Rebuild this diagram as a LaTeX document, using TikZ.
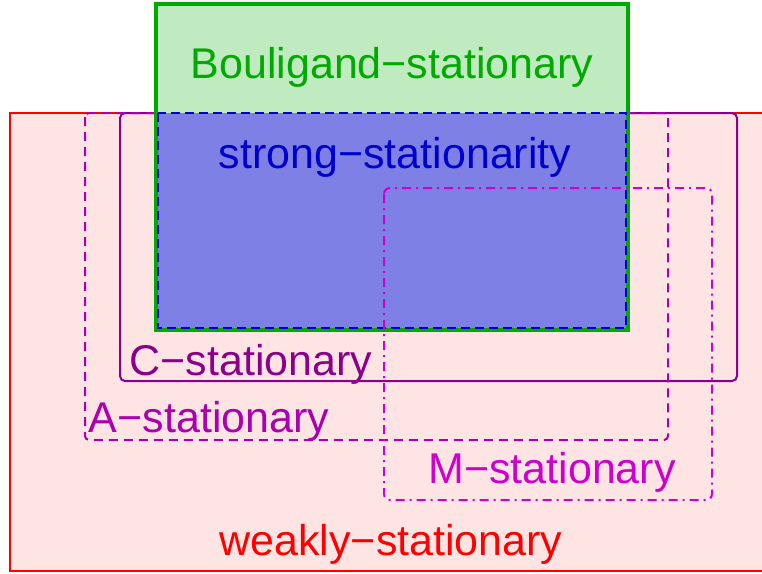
\documentclass[tikz,border=0pt]{standalone}
\usepackage{fontspec}
\setmainfont{Liberation Sans}
\definecolor{wsred}{RGB}{255,0,0}
\definecolor{wsfill}{RGB}{255,228,228}
\definecolor{bgreen}{RGB}{0,170,0}
\definecolor{bfill}{RGB}{192,235,192}
\definecolor{sblue}{RGB}{0,0,204}
\definecolor{sfill}{RGB}{126,128,230}
\definecolor{cpurple}{RGB}{139,0,139}
\definecolor{amag}{RGB}{170,0,176}
\definecolor{mmag}{RGB}{205,0,205}
\tikzset{
  lbl/.style={anchor=base, inner sep=0pt, font=\fontsize{43}{50}\selectfont},
  wsbox/.style={draw=wsred, fill=wsfill, line width=1.5pt},
  bbox/.style={draw=bgreen, fill=bfill, line width=4pt},
  ssbox/.style={draw=sblue, fill=sfill, line width=2.5pt, dash pattern=on 9pt off 5pt},
  cbox/.style={draw=cpurple, line width=2pt, rounded corners=5pt},
  abox/.style={draw=amag, line width=2pt, rounded corners=4pt, dash pattern=on 9pt off 6pt},
  mbox/.style={draw=mmag, line width=2pt, rounded corners=6pt, dash pattern=on 9pt off 5pt on 2pt off 5pt}
}
\begin{document}
\begin{tikzpicture}[x=1pt,y=-1pt]
\useasboundingbox (0,0) rectangle (762,573);
\clip (0,0) rectangle (762,573);
% weakly-stationary region (runs off the right edge)
\draw[wsbox] (10,113) rectangle (790,571);
% C- and A-stationary regions
\draw[cbox] (120,113) rectangle (737,381);
\draw[abox] (85,113) rectangle (668,440);
% Bouligand-stationary region
\draw[bbox] (156,4) rectangle (628,330);
% strong-stationarity region
\draw[ssbox] (158,113) rectangle (626,328);
% M-stationary region
\draw[mbox] (384,188) rectangle (712,500);
% labels
\node[lbl, text=bgreen] (tb) at (392,78) {Bouligand−stationary};
\node[lbl, text=sblue] (ts) at (395,168) {strong−stationarity};
\node[lbl, text=cpurple] (tc) at (251,375) {C−stationary};
\node[lbl, text=amag] (ta) at (209,432) {A−stationary};
\node[lbl, text=mmag] (tm) at (552,483) {M−stationary};
\node[lbl, text=wsred] (tw) at (391,555) {weakly−stationary};
\end{tikzpicture}
\end{document}
